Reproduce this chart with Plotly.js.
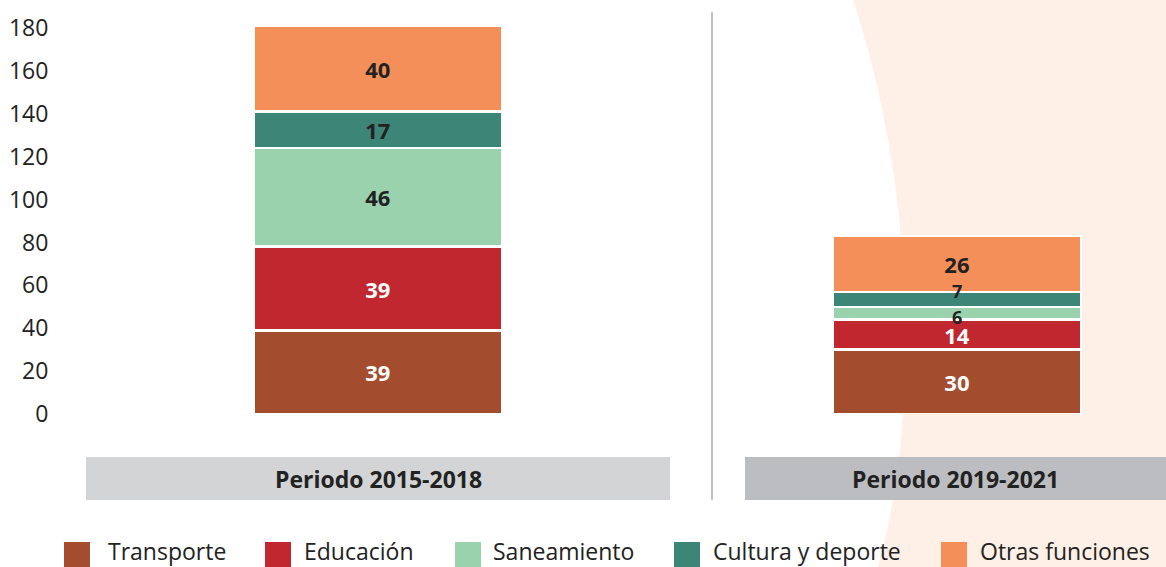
<!DOCTYPE html>
<html>
<head>
<meta charset="utf-8">
<script src="https://cdn.plot.ly/plotly-3.0.1.min.js"></script>
<style>html,body{margin:0;padding:0;background:#fff;}#chart{width:1166px;height:567px;}</style>
</head>
<body>
<div id="chart"></div>
<script>
// ---- data ----
const categories = ['Periodo 2015-2018', 'Periodo 2019-2021'];
const seriesNames = ['Transporte', 'Educación', 'Saneamiento', 'Cultura y deporte', 'Otras funciones'];
const transporte = [39, 30];
const educacion = [39, 14];
const saneamiento = [46, 6];
const cultura = [17, 7];
const otras = [40, 26];
const yTicks = [0, 20, 40, 60, 80, 100, 120, 140, 160, 180];

// ---- styles ----
const colors = ['#a34d2e', '#c1272f', '#9bd2ae', '#3c8577', '#f58f5a'];
const textColors = ['#ffffff', '#ffffff', '#222222', '#222222', '#222222'];
const FONT = '"Open Sans", "Noto Sans", sans-serif';

const W = 1166, H = 567;
const L = 86, R = 0, T = 10, B = 153;
const pw = W - L - R, ph = H - T - B;
const px = v => (v - L) / pw;
const py = v => (H - B - v) / ph;

const values = [transporte, educacion, saneamiento, cultura, otras];
const xs = [0, 1];
const isSmall = v => v < 10;

const traces = values.map((vals, i) => ({
  type: 'bar',
  name: seriesNames[i],
  x: xs,
  y: vals,
  width: 0.428,
  marker: { color: colors[i], line: { color: '#ffffff', width: 2.5 } },
  text: vals.map(v => isSmall(v) ? '' : String(v)),
  textposition: 'inside',
  insidetextanchor: 'middle',
  textangle: 0,
  constraintext: 'none',
  textfont: { family: FONT, size: 22, color: textColors[i], weight: 'bold' },
  showlegend: false,
  hoverinfo: 'skip'
}));

const shapes = [
  // peach background curve
  { type: 'path', xref: 'paper', yref: 'paper', layer: 'below', line: { width: 0 }, fillcolor: '#fef0e6',
    path: `M ${px(853)},${py(0)} C ${px(910)},${py(170)} ${px(925)},${py(400)} ${px(878)},${py(567)} L ${px(1166)},${py(567)} L ${px(1166)},${py(0)} Z` },
  // period boxes
  { type: 'rect', xref: 'paper', yref: 'paper', layer: 'below', line: { width: 0 }, fillcolor: '#d3d4d6',
    x0: px(86), x1: px(670), y0: py(457), y1: py(500) },
  { type: 'rect', xref: 'paper', yref: 'paper', layer: 'below', line: { width: 0 }, fillcolor: '#bcbdc1',
    x0: px(745), x1: px(1166), y0: py(457), y1: py(500) },
  // separator
  { type: 'line', xref: 'paper', yref: 'paper', layer: 'below', line: { color: '#a8a8a8', width: 1.5 },
    x0: px(712), x1: px(712), y0: py(12), y1: py(500) }
];

const boxCenters = [378, 955.5];
const annotations = categories.map((c, i) => ({
  xref: 'paper', yref: 'paper', x: px(boxCenters[i]), y: py(479),
  xanchor: 'center', yanchor: 'middle', showarrow: false,
  text: '<b>' + c + '</b>', font: { family: FONT, size: 23, color: '#222' }
}));

// labels of thin segments, placed at segment centres (computed from data) and nudged apart
xs.forEach((x, j) => {
  let base = 0;
  values.forEach((vals, i) => {
    const v = vals[j];
    if (isSmall(v)) {
      annotations.push({ xref: 'x', yref: 'y', x: x, y: base + v / 2, yshift: (i === 3 ? 8 : -4),
        xanchor: 'center', yanchor: 'middle', showarrow: false, text: '<b>' + v + '</b>',
        font: { family: FONT, size: 18, color: textColors[i] } });
    }
    base += v;
  });
});

// manual legend
const legSquareX = [64, 265, 455, 674, 941];
const legTextX = [106, 302, 491, 711, 978];
seriesNames.forEach((n, i) => {
  shapes.push({ type: 'rect', xref: 'paper', yref: 'paper', line: { width: 0 }, fillcolor: colors[i],
    x0: px(legSquareX[i]), x1: px(legSquareX[i] + 26), y0: py(542), y1: py(568) });
  annotations.push({ xref: 'paper', yref: 'paper', x: px(legTextX[i]), y: py(551),
    xanchor: 'left', yanchor: 'middle', showarrow: false, text: n,
    font: { family: FONT, size: 23, color: '#222' } });
});

const layout = {
  width: W, height: H,
  margin: { l: L, r: R, t: T, b: B, pad: 0 },
  paper_bgcolor: '#ffffff',
  plot_bgcolor: 'rgba(0,0,0,0)',
  barmode: 'stack',
  showlegend: false,
  xaxis: { type: 'linear', range: [-0.504, 1.361], showticklabels: false, showgrid: false, zeroline: false, showline: false, ticks: '' },
  yaxis: { range: [0, 188.4], tickvals: yTicks, ticktext: yTicks.map(String), showgrid: false, zeroline: false, showline: false,
    ticks: 'outside', ticklen: 32, tickcolor: 'rgba(0,0,0,0)',
    tickfont: { family: FONT, size: 23, color: '#222' } },
  shapes: shapes,
  annotations: annotations,
  font: { family: FONT }
};

Plotly.newPlot('chart', traces, layout, { displayModeBar: false, staticPlot: true });
</script>
</body>
</html>
